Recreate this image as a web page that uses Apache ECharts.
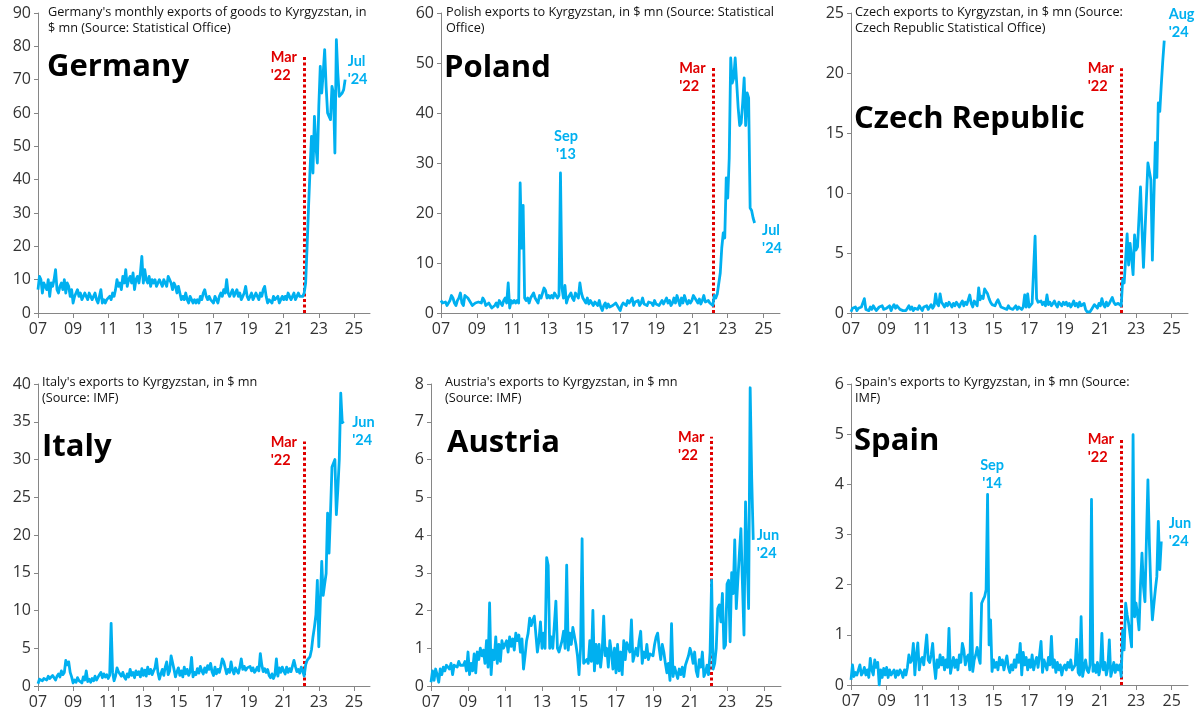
<!DOCTYPE html>
<html>
<head>
<meta charset="utf-8">
<script src="https://cdn.jsdelivr.net/npm/echarts@6/dist/echarts.min.js"></script>
<style>
  html, body { margin: 0; padding: 0; background: #fff; }
  #chart { width: 1200px; height: 715px; }
</style>
</head>
<body>
<div id="chart"></div>
<script>
// monthly exports to Kyrgyzstan, $ mn, starting Jan 2007 (one row per year)
const germany = [
  7, 11, 10, 6, 9, 8, 7, 10, 5, 9, 8, 10,
  13, 7, 6, 8, 9, 7, 10, 6, 9, 8, 5, 7,
  3, 5, 6, 7, 5, 6, 4, 5, 6, 5, 4, 6,
  5, 4, 5, 6, 4, 3, 5, 7, 3, 4, 3, 4,
  4, 5, 4, 6, 5, 7, 10, 8, 9, 7, 11, 9,
  13, 8, 10, 11, 9, 12, 7, 10, 11, 9, 12, 17,
  9, 13, 10, 9, 11, 8, 10, 9, 10, 8, 9, 10,
  9, 8, 10, 9, 8, 11, 10, 9, 7, 9, 8, 6,
  8, 6, 4, 5, 4, 6, 4, 3, 5, 4, 3, 4,
  3, 4, 3, 5, 4, 6, 7, 5, 4, 5, 4, 4,
  3, 5, 4, 3, 5, 6, 5, 7, 6, 10, 6, 5,
  6, 7, 5, 6, 7, 5, 6, 4, 5, 6, 8, 5,
  4, 5, 6, 4, 5, 6, 5, 4, 6, 5, 7, 8,
  5, 3, 4, 4, 3, 5, 4, 4, 5, 3, 4, 5,
  4, 5, 4, 6, 5, 4, 5, 6, 4, 5, 6, 5,
  5, 5, 6, 9, 20, 32, 43, 53, 42, 59, 50, 45,
  62, 74, 66, 72, 79, 68, 60, 59, 58, 68, 66, 48,
  82, 72, 65, 65, 66, 67, 70
];

const poland = [
  2.5, 2, 1.8, 2.2, 1.5, 2, 2.5, 3.5, 3, 2, 1.5, 2.5,
  3, 4, 2, 1.5, 3.5, 3.5, 3, 2.5, 2, 1.5, 1.8, 2,
  2, 2.2, 2.5, 2, 3, 2.5, 1.5, 1.2, 2, 1.5, 1, 1.2,
  1.5, 2, 1.2, 2.5, 2, 1.5, 2.5, 3, 2, 6, 1, 2.5,
  2, 2.5, 2, 2.5, 2, 26, 13, 21.5, 3, 2.5, 3, 2,
  3, 3.5, 4, 3, 2.5, 2, 3.5, 3, 4, 5, 4.5, 3,
  3.5, 3, 3.5, 3, 4, 3.5, 3, 3.5, 28, 5, 3, 5.5,
  2, 3, 3.5, 4, 3, 2.5, 4, 3.5, 3, 6, 4, 3,
  2.5, 2, 3, 1.8, 2.5, 2, 1.5, 2.2, 1.8, 1.5, 2.5, 1.2,
  0.5, 1.5, 2, 1, 1.8, 1.2, 0.8, 1.5, 1.2, 2, 1.5, 1,
  0.5, 1.5, 2, 1.8, 1.5, 2.5, 2, 1.8, 3, 1.5, 2.2, 1.8,
  2.5, 1.5, 2, 3, 1.8, 2, 1.5, 2.2, 1.8, 2, 1.5, 2.5,
  1.8, 2.2, 1.5, 2, 2.5, 1.8, 2.2, 3, 2, 2.5, 1.5, 2,
  3, 2, 3.5, 2.5, 1.5, 3, 2, 3.5, 2.5, 1.8, 2.5, 2,
  2.5, 3.5, 3.8, 2.5, 2, 2.8, 1.8, 2.5, 3.5, 2.2, 2, 2.5,
  2, 1.8, 1.5, 3.5, 3, 3.8, 3.5, 8, 13, 16, 15, 27,
  23, 31, 51, 46, 47, 51, 46, 41, 37.5, 38, 42, 47,
  37.5, 44, 43, 21, 20.5, 19, 18
];

const czech = [
  0.1, 0.4, 0.3, 0.5, 0.2, 0.4, 0.3, 0.5, 0.4, 1.2, 0.3, 0.4,
  0.2, 0.5, 0.3, 0.6, 0.4, 0.2, 0.3, 0.5, 0.4, 0.6, 0.3, 0.2,
  0.4, 0.3, 0.6, 0.2, 0.5, 0.7, 0.4, 0.6, 0.5, 0.3, 0.4, 0.2,
  0.3, 0.2, 0.4, 0.6, 0.3, 0.5, 0.2, 0.4, 0.5, 0.3, 0.6, 0.4,
  0.2, 0.5, 0.4, 0.6, 0.3, 0.5, 0.7, 0.4, 0.6, 1.6, 0.8, 0.6,
  1.6, 0.9, 0.7, 0.5, 0.8, 0.6, 0.9, 0.7, 0.5, 0.8, 0.6, 0.9,
  0.7, 0.5, 0.8, 1, 0.6, 0.9, 0.7, 0.6, 1.5, 0.8, 0.5, 1,
  0.9, 0.6, 2.1, 1.1, 1.4, 1.2, 2, 1.8, 1.6, 1.2, 0.9, 0.7,
  0.8, 0.6, 0.9, 1.1, 0.8, 0.5, 0.6, 0.4, 0.5, 0.3, 0.6, 0.4,
  0.5, 0.3, 0.4, 0.6, 0.3, 0.5, 0.4, 0.3, 0.5, 1.5, 0.5, 1.6,
  0.5, 0.6, 0.8, 0.9, 6.4, 1.2, 0.9, 0.8, 1, 0.7, 0.9, 0.6,
  1.5, 0.7, 0.9, 0.6, 0.8, 1, 0.7, 0.5, 0.9, 0.8, 0.6, 0.9,
  0.7, 0.9, 0.6, 0.8, 0.5, 0.7, 1, 0.6, 0.8, 0.5, 0.9, 0.6,
  0.5, 0.8, 0.3, 0.1, 0.2, 0.1, 0.3, 0.5, 0.7, 0.6, 0.4, 0.8,
  0.6, 1.2, 0.7, 0.5, 0.9, 0.6, 0.8, 0.7, 1.3, 0.9, 0.7, 0.8,
  0.8, 0.9, 0.6, 2.8, 2.5, 4.5, 6.6, 4, 5.8, 4.6, 3.2, 6.5,
  5.25, 5.5, 8, 10.5, 7, 3.8, 6.7, 9.6, 12.5, 11.8, 11.1, 4.4,
  9.5, 14.2, 11.3, 17.5, 16.8, 19, 21, 22.7
];

const italy = [
  0.3, 0.9, 1.1, 0.7, 1, 1.2, 0.8, 1.3, 1, 0.9, 1.4, 1.1,
  0.8, 1.3, 1.6, 1.2, 2, 1.5, 1.8, 3.4, 2.8, 3.2, 1.8, 1.2,
  0.4, 0.8, 0.5, 1.1, 0.7, 0.9, 0.4, 1.2, 0.8, 2, 0.6, 0.9,
  0.5, 1, 0.7, 1.3, 0.8, 0.6, 1.5, 1.8, 1.1, 1.6, 1.2, 1.5,
  1, 1.4, 8.3, 1.8, 0.7, 1.3, 2.4, 1.9, 1.6, 1.3, 1.8, 1.2,
  0.9, 1.6, 1.2, 2.2, 1.4, 1.8, 1.1, 2, 1.5, 1.9, 1.2, 2.3,
  1.4, 2.1, 1.3, 2.5, 1.6, 2.2, 1.5, 2, 2.4, 3.6, 1.8, 0.9,
  1.6, 2.2, 1.4, 2.5, 3.2, 1.5, 2, 4, 3.8, 2.2, 1.2, 1.9,
  2.4, 1.4, 2, 1.2, 2.5, 1.6, 2.2, 1.4, 1.9, 3.8, 1.2, 1.8,
  1.5, 2.3, 1.7, 2.6, 2, 1.6, 2.4, 1.8, 2.7, 2.2, 3, 1.9,
  1.4, 2.5, 1.6, 2.2, 1.8, 2.6, 3.6, 3.2, 2.4, 1.6, 2.2, 1.8,
  3.2, 2.1, 1.6, 2.4, 2, 1.7, 2.5, 3.6, 2.2, 2.6, 2.1, 2.4,
  2.2, 2.6, 2, 2.4, 1.8, 2.1, 2.5, 2, 4.3, 2.8, 1.9, 2.3,
  1.8, 2.2, 1.4, 1.1, 1.6, 1, 1.5, 3.6, 1.3, 2.4, 1.8, 2.5,
  2, 1.6, 2.5, 1.8, 2.3, 1.9, 2.1, 3.4, 2.6, 1.9, 2.2, 1.7,
  2.5, 2, 1.3, 2.8, 3.4, 3.2, 3.9, 4.8, 6.5, 7.8, 9.4, 14,
  5.2, 11, 16.5, 12, 13.5, 14.9, 22.9, 17.6, 23, 29, 29.5, 30,
  22.7, 26, 30, 38.8, 35, 34.8
];

const austria = [
  0.1, 0.4, 0.15, 0.45, 0.3, 0.1, 0.45, 0.3, 0.5, 0.4, 0.55, 0.5,
  0.45, 0.6, 0.3, 0.55, 0.6, 0.5, 0.65, 0.55, 0.6, 0.55, 0.65, 0.4,
  0.9, 0.3, 0.6, 0.4, 0.85, 0.35, 0.9, 0.7, 1.0, 0.8, 0.95, 0.6,
  1.2, 0.5, 2.2, 0.3, 0.95, 0.7, 1.3, 0.6, 1.1, 0.65, 1.2, 1.0,
  1.1, 1.2, 0.9, 1.3, 1.05, 1.25, 0.95, 1.4, 1.2, 1.35, 0.9, 1.25,
  0.45, 0.8, 1.2, 1.4, 1.8, 1.6, 1.75, 1.85, 1.9, 0.9, 1.2, 1.7,
  1.0, 1.4, 1.0, 3.4, 3.2, 1.0, 1.3, 1.0, 1.05, 2.25, 1.0, 0.9,
  0.85, 1.2, 1.45, 1.0, 3.2, 0.95, 1.4, 1.1, 1.55, 1.5, 1.1, 0.8,
  0.3, 1.0, 3.9, 0.6, 0.55, 0.7, 0.6, 1.2, 0.65, 2.0, 0.4, 1.1,
  0.6, 1.1, 0.5, 0.9, 1.85, 0.8, 1.0, 0.5, 1.2, 0.9, 0.45, 1.0,
  0.35, 1.1, 0.4, 0.9, 0.3, 1.2, 0.7, 1.15, 1.2, 0.9, 1.75, 0.65,
  0.7, 1.0, 0.8, 1.2, 1.45, 0.6, 0.9, 0.75, 1.1, 0.7, 0.85, 0.9,
  0.8, 1.1, 1.3, 1.4, 1.0, 0.7, 1.1, 0.9, 0.6, 0.35, 0.6, 0.15,
  1.65, 0.25, 0.5, 0.35, 0.2, 0.45, 0.3, 0.5, 0.25, 0.55, 0.6, 0.8,
  1.0, 0.85, 0.6, 0.9, 0.4, 0.25, 0.7, 0.5, 0.9, 0.25, 0.35, 0.55,
  0.3, 0.9, 2.8, 0.45, 0.6, 1.0, 2.05, 2.15, 1.7, 2.45, 1.0, 1.08,
  2.7, 2.8, 1.17, 3.0, 2.45, 3.87, 2.05, 2.8, 3.5, 4.17, 2.7, 1.35,
  4.88, 3.4, 2.05, 7.9, 5.5, 3.87
];

const spain = [
  0.1, 0.4, 0.17, 0.25, 0.2, 0.3, 0.4, 0.2, 0.25, 0.35, 0.2, 0.3,
  0.15, 0.53, 0.3, 0.2, 0.5, 0.35, 0.45, 0.0, 0.3, 0.15, 0.33, 0.2,
  0.35, 0.15, 0.3, 0.2, 0.25, 0.3, 0.15, 0.28, 0.2, 0.3, 0.25, 0.15,
  0.3, 0.2, 0.35, 0.6, 0.45, 0.5, 0.83, 0.2, 0.6, 0.84, 0.3, 0.5,
  0.55, 0.4, 0.7, 1.0, 0.5, 0.45, 0.6, 0.83, 0.4, 0.13, 0.5, 0.35,
  0.6, 0.4, 0.55, 0.3, 0.5, 0.35, 1.13, 0.23, 0.4, 0.55, 0.35, 0.5,
  0.3, 0.6, 0.45, 0.83, 0.7, 0.4, 0.55, 0.6, 0.3, 1.83, 0.27, 0.5,
  0.6, 0.75, 0.55, 0.43, 1.63, 1.7, 1.76, 1.9, 3.8, 0.8, 1.3, 0.27,
  0.5, 0.35, 0.45, 0.3, 0.55, 0.4, 0.5, 0.3, 0.45, 0.58, 0.35, 0.25,
  0.4, 0.3, 0.5, 0.35, 0.6, 0.45, 0.83, 0.2, 0.65, 0.4, 0.55, 0.3,
  0.5, 0.35, 0.6, 0.3, 0.45, 0.55, 0.35, 0.6, 0.87, 0.25, 0.5, 0.4,
  0.3, 0.55, 0.4, 0.97, 0.35, 0.5, 0.25, 0.45, 0.3, 0.4, 0.2, 0.35,
  0.4, 0.3, 0.45, 0.35, 0.5, 0.3, 0.35, 0.4, 0.91, 0.25, 0.2, 1.36,
  0.17, 0.35, 0.5, 0.3, 0.25, 0.4, 3.7, 0.27, 0.4, 0.25, 0.45, 0.2,
  0.35, 1.03, 0.3, 0.45, 0.2, 0.35, 0.9, 0.17, 0.3, 0.45, 0.25, 0.4,
  0.3, 0.4, 0.17, 1.1, 0.7, 1.63, 1.4, 1.23, 1.0, 0.76, 4.99, 1.36,
  1.63, 1.4, 1.1, 2.0, 2.63, 1.96, 1.66, 2.9, 4.09, 2.8, 1.9, 1.3,
  1.6, 1.9, 2.16, 3.26, 2.3, 2.86
];

const startYear = 7;        // x axis labels are two-digit years from 2007
const invasionMonth = 182;  // Mar 2022, months after Jan 2007
const xMax = 227;

const BLUE = '#00b0f0';
const RED = '#e00000';
const TEXT_FONT = '"Open Sans", Lato, sans-serif';
const NOTE_FONT = 'Lato, "Open Sans", sans-serif';

const panels = [
  { values: germany, yMax: 90, yStep: 10, grid: [38, 13, 332, 300],
    caption: "Germany's monthly exports of goods to Kyrgyzstan, in\n$ mn (Source: Statistical Office)", capPos: [48, 4],
    name: 'Germany', namePos: [47, 49], marTop: 77,
    notes: [{ text: "Jul\n'24", idx: 210, off: [3, -9], align: 'left' }] },
  { values: poland, yMax: 60, yStep: 10, grid: [441, 13, 339, 300],
    caption: 'Polish exports to Kyrgyzstan, in $ mn (Source: Statistical\nOffice)', capPos: [446, 4],
    name: 'Poland', namePos: [444, 50], marTop: 49,
    notes: [{ text: "Sep\n'13", idx: 80, off: [6, -27], align: 'center' },
            { text: "Jul\n'24", idx: 210, off: [8, 17], align: 'left' }] },
  { values: czech, yMax: 25, yStep: 5, grid: [851, 13, 337, 300],
    caption: 'Czech exports to Kyrgyzstan, in $ mn (Source:\nCzech Republic Statistical Office)', capPos: [855, 4],
    name: 'Czech Republic', namePos: [854, 101], marTop: 20.4,
    notes: [{ text: "Aug\n'24", idx: 211, off: [5, -17], align: 'left' }] },
  { values: italy, yMax: 40, yStep: 5, grid: [38, 384, 332, 302],
    caption: "Italy's exports to Kyrgyzstan, in $ mn\n(Source: IMF)", capPos: [42, 374],
    name: 'Italy', namePos: [42, 429], marTop: 32.4,
    notes: [{ text: "Jun\n'24", idx: 209, off: [9, 9], align: 'left' }] },
  { values: austria, yMax: 8, yStep: 1, grid: [431, 384, 350, 302],
    caption: "Austria's exports to Kyrgyzstan, in $ mn\n(Source: IMF)", capPos: [445, 374],
    name: 'Austria', namePos: [447, 425], marTop: 6.6,
    notes: [{ text: "Jun\n'24", idx: 209, off: [4, 5], align: 'left' }] },
  { values: spain, yMax: 6, yStep: 1, grid: [851, 384, 337, 301],
    caption: "Spain's exports to Kyrgyzstan, in $ mn (Source:\nIMF)", capPos: [855, 374],
    name: 'Spain', namePos: [854, 423], marTop: 4.9,
    notes: [{ text: "Sep\n'14", idx: 92, off: [5, -20], align: 'center' },
            { text: "Jun\n'24", idx: 209, off: [8, -9], align: 'left' }] }
];

const axisGrey = '#868686';
const labelStyle = { color: '#333', fontSize: 16, fontFamily: TEXT_FONT };

function hiddenSymbol() {
  return { symbol: 'rect', symbolSize: 1, itemStyle: { color: 'rgba(0,0,0,0)' } };
}

const option = {
  animation: false,
  backgroundColor: '#fff',
  title: panels.flatMap(p => [
    { text: p.caption, left: p.capPos[0], top: p.capPos[1], padding: 0,
      textStyle: { fontFamily: TEXT_FONT, fontSize: 12.7, fontWeight: 'normal', color: '#111', lineHeight: 16.5 } },
    { text: p.name, left: p.namePos[0], top: p.namePos[1], padding: 0,
      textStyle: { fontFamily: TEXT_FONT, fontSize: 31, fontWeight: 'bold', color: '#000', lineHeight: 36 } }
  ]),
  grid: panels.map(p => ({ left: p.grid[0], top: p.grid[1], width: p.grid[2], height: p.grid[3],
    containLabel: false, outerBoundsMode: 'none' })),
  xAxis: panels.map((p, i) => ({
    gridIndex: i, type: 'value', min: 0, max: xMax, interval: 24,
    axisLine: { show: true, lineStyle: { color: axisGrey, width: 1 } },
    axisTick: { show: true, length: 5, lineStyle: { color: axisGrey } },
    splitLine: { show: false },
    axisLabel: Object.assign({ margin: 8, showMaxLabel: false,
      formatter: v => String(startYear + v / 12).padStart(2, '0') }, labelStyle)
  })),
  yAxis: panels.map((p, i) => ({
    gridIndex: i, type: 'value', min: 0, max: p.yMax, interval: p.yStep,
    axisLine: { show: true, lineStyle: { color: axisGrey, width: 1 } },
    axisTick: { show: true, length: 4, lineStyle: { color: axisGrey } },
    splitLine: { show: false },
    axisLabel: Object.assign({ margin: 7 }, labelStyle)
  })),
  series: panels.map((p, i) => ({
    type: 'line', xAxisIndex: i, yAxisIndex: i,
    data: p.values.map((v, m) => [m, v]),
    showSymbol: false, symbol: 'none', z: 3,
    lineStyle: { color: BLUE, width: 2.8, join: 'round' },
    markLine: {
      silent: true, symbol: ['none', 'none'], z: 2,
      label: { show: false },
      lineStyle: { color: RED, width: 3, type: [3, 2.5] },
      data: [[{ coord: [invasionMonth, 0] }, { coord: [invasionMonth, p.marTop] }]]
    },
    markPoint: {
      silent: true,
      data: [
        Object.assign({ coord: [invasionMonth, p.marTop],
          label: { show: true, formatter: "Mar\n'22", position: [-33, 10], align: 'left', verticalAlign: 'middle',
            color: RED, fontFamily: NOTE_FONT, fontWeight: 'bold', fontSize: 14.5, lineHeight: 18 } }, hiddenSymbol())
      ].concat(p.notes.map(n => Object.assign({ coord: [n.idx, p.values[n.idx]],
          label: { show: true, formatter: n.text, position: n.off, align: n.align, verticalAlign: 'middle',
            color: BLUE, fontFamily: NOTE_FONT, fontWeight: 'bold', fontSize: 14.5, lineHeight: 18 } }, hiddenSymbol())))
    }
  }))
};

const chart = echarts.init(document.getElementById('chart'), null, { renderer: 'canvas' });
chart.setOption(option);
</script>
</body>
</html>
